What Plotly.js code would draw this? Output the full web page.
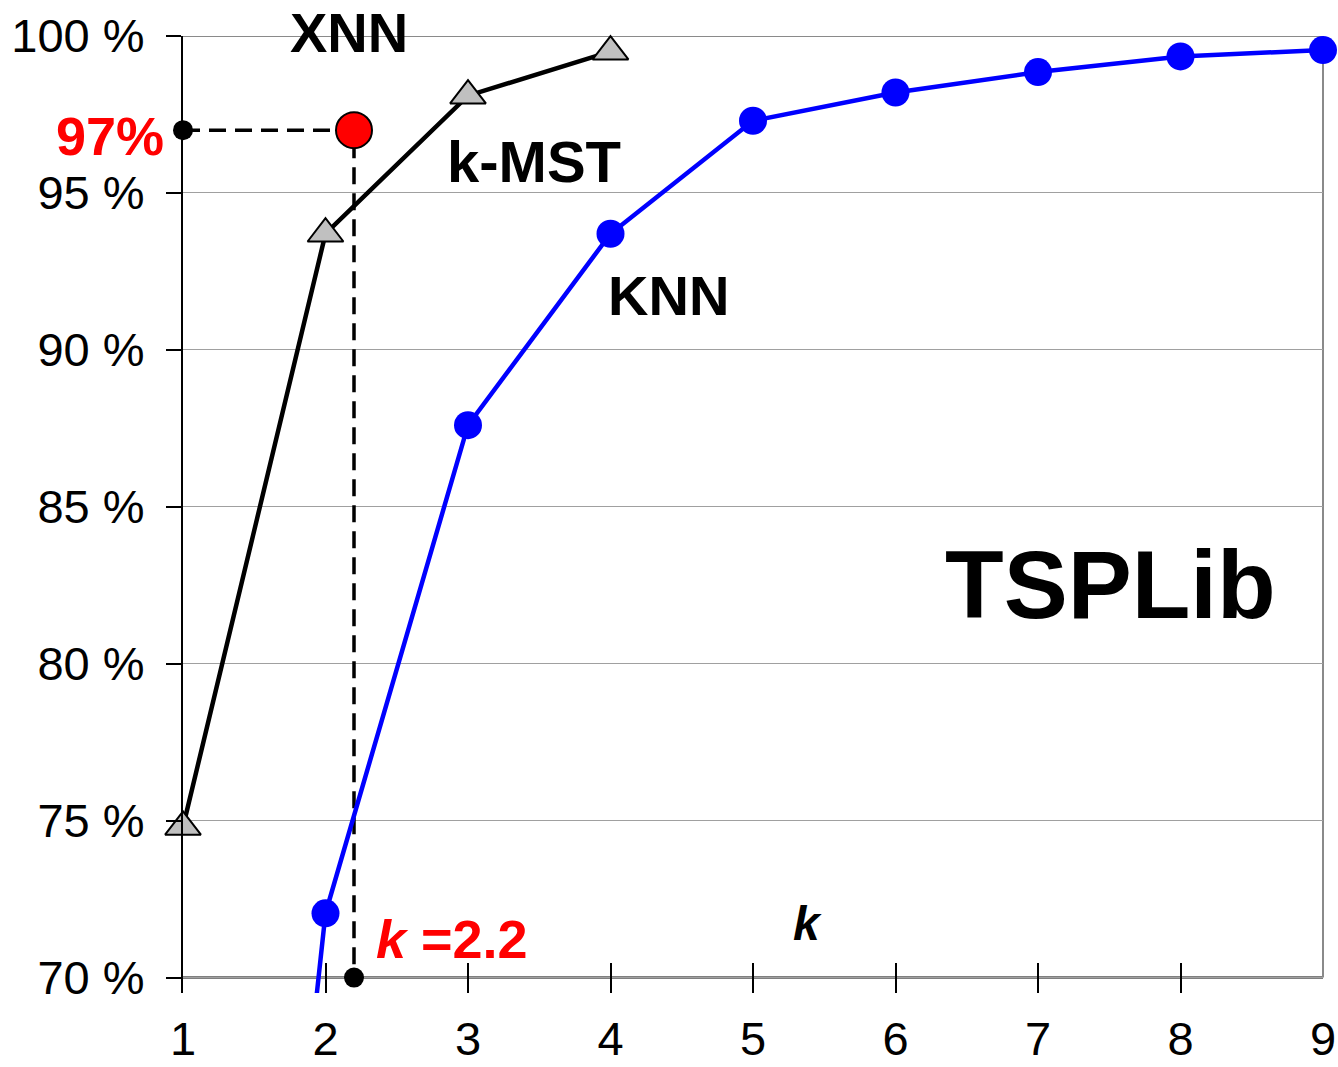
<!DOCTYPE html>
<html>
<head>
<meta charset="utf-8">
<script src="https://cdn.plot.ly/plotly-3.0.1.min.js"></script>
<style>
  html, body { margin: 0; padding: 0; background: #ffffff; }
  #chart { width: 1338px; height: 1067px; }
</style>
</head>
<body>
<div id="chart"></div>
<script>
// Candidate-set size k on the horizontal axis
const kValues = [1, 2, 3, 4, 5, 6, 7, 8, 9];

// Share of optimal tour edges covered (%)
const kmstK = [1, 2, 3, 4];
const kmstPct = [74.8, 93.7, 98.1, 99.5];

const knnK = [1, 2, 3, 4, 5, 6, 7, 8, 9];
const knnPct = [30, 72.05, 87.6, 93.7, 97.3, 98.2, 98.85, 99.35, 99.55];

// XNN operating point
const xnnK = [2.2];
const xnnPct = [97];

// Axis bounds
const yBase = 70;
const yTop = 100;
const yMin = 69.51;
const yTicks = [70, 75, 80, 85, 90, 95, 100];

const FONT = 'Liberation Sans, Arial, Helvetica, sans-serif';
const xMin = kValues[0];
const xMax = kValues[kValues.length - 1];

// KNN markers only where the point lies inside the vertical range
const knnVisK = knnK.filter((k, i) => knnPct[i] >= yBase);
const knnVisPct = knnPct.filter(v => v >= yBase);

const traces = [
  // dashed guides from the XNN point to both axes
  {
    x: [xMin, xnnK[0], xnnK[0]],
    y: [xnnPct[0], xnnPct[0], yBase],
    mode: 'lines',
    line: { color: '#000000', width: 3.5, dash: '17px,9px' },
    hoverinfo: 'skip', showlegend: false
  },
  {
    x: [xMin, xnnK[0]],
    y: [xnnPct[0], yBase],
    mode: 'markers',
    marker: { color: '#000000', size: 20 },
    cliponaxis: false,
    hoverinfo: 'skip', showlegend: false
  },
  // k-MST
  {
    x: kmstK, y: kmstPct,
    mode: 'lines+markers',
    line: { color: '#000000', width: 4.5 },
    marker: { symbol: 'triangle-up', size: 31, color: '#c0c0c0', line: { color: '#000000', width: 2 } },
    cliponaxis: false,
    showlegend: false
  },
  // KNN line (runs off the bottom of the axis)
  {
    x: knnK, y: knnPct,
    mode: 'lines',
    line: { color: '#0000ff', width: 4.5 },
    showlegend: false
  },
  {
    x: knnVisK, y: knnVisPct,
    mode: 'markers',
    marker: { color: '#0000ff', size: 28 },
    cliponaxis: false,
    showlegend: false
  },
  // XNN
  {
    x: xnnK, y: xnnPct,
    mode: 'markers',
    marker: { color: '#ff0000', size: 36, line: { color: '#000000', width: 2 } },
    cliponaxis: false,
    showlegend: false
  }
];

const layout = {
  width: 1338,
  height: 1067,
  margin: { l: 183, r: 15, t: 36, b: 74, pad: 0 },
  paper_bgcolor: '#ffffff',
  plot_bgcolor: '#ffffff',
  showlegend: false,
  font: { family: FONT, color: '#000000', size: 47 },
  xaxis: {
    range: [xMin, xMax],
    tickvals: kValues,
    ticktext: kValues.map(String),
    ticks: 'inside',
    ticklen: 30,
    tickwidth: 2,
    tickcolor: '#000000',
    showline: false,
    showgrid: false,
    zeroline: false,
    ticklabelstandoff: 14,
    tickfont: { family: FONT, size: 47, color: '#000000' }
  },
  yaxis: {
    range: [yMin, yTop],
    tickvals: yTicks,
    ticktext: yTicks.map(v => v + ' %'),
    ticks: 'outside',
    ticklen: 15,
    tickwidth: 2,
    tickcolor: '#000000',
    showline: true,
    linecolor: '#000000',
    linewidth: 2,
    showgrid: true,
    gridcolor: '#a0a0a0',
    gridwidth: 1,
    zeroline: false,
    ticklabelstandoff: 12,
    tickfont: { family: FONT, size: 47, color: '#000000' }
  },
  shapes: [
    // horizontal axis line at the base value
    { type: 'line', layer: 'between', xref: 'paper', yref: 'y', x0: 0, x1: 1, y0: yBase, y1: yBase,
      line: { color: '#000000', width: 2 } },
    // top and right frame
    { type: 'line', layer: 'between', xref: 'paper', yref: 'y', x0: 0, x1: 1, y0: yTop, y1: yTop,
      line: { color: '#8a8a8a', width: 2 } },
    { type: 'line', layer: 'between', xref: 'paper', yref: 'y', x0: 1, x1: 1, y0: yBase, y1: yTop,
      line: { color: '#8a8a8a', width: 2 } }
  ],
  annotations: [
    { text: '<b>XNN</b>', x: 2.165, y: yTop, yshift: 4, xref: 'x', yref: 'y', showarrow: false,
      xanchor: 'center', yanchor: 'middle', font: { family: FONT, size: 56, color: '#000000' } },
    { text: '<b>97%</b>', x: 0, y: xnnPct[0], xref: 'paper', yref: 'y', showarrow: false,
      xanchor: 'right', yanchor: 'middle', xshift: -17, yshift: -6,
      font: { family: FONT, size: 54, color: '#ff0000' } },
    { text: '<b>k-MST</b>', x: 3.46, y: 96.0, xref: 'x', yref: 'y', showarrow: false,
      xanchor: 'center', yanchor: 'middle', font: { family: FONT, size: 58, color: '#000000' } },
    { text: '<b>KNN</b>', x: 4.41, y: 91.72, xref: 'x', yref: 'y', showarrow: false,
      xanchor: 'center', yanchor: 'middle', font: { family: FONT, size: 56, color: '#000000' } },
    { text: '<b>TSPLib</b>', x: 7.51, y: 82.54, xref: 'x', yref: 'y', showarrow: false,
      xanchor: 'center', yanchor: 'middle', font: { family: FONT, size: 96, color: '#000000' } },
    { text: '<b><i>k</i></b>', x: 5.38, y: 71.74, xref: 'x', yref: 'y', showarrow: false,
      xanchor: 'center', yanchor: 'middle', font: { family: FONT, size: 48, color: '#000000' } },
    { text: '<b><i>k</i> =2.2</b>', x: 2.89, y: 71.23, xref: 'x', yref: 'y', showarrow: false,
      xanchor: 'center', yanchor: 'middle', font: { family: FONT, size: 54, color: '#ff0000' } }
  ]
};

Plotly.newPlot('chart', traces, layout, { staticPlot: true, displayModeBar: false });
</script>
</body>
</html>
